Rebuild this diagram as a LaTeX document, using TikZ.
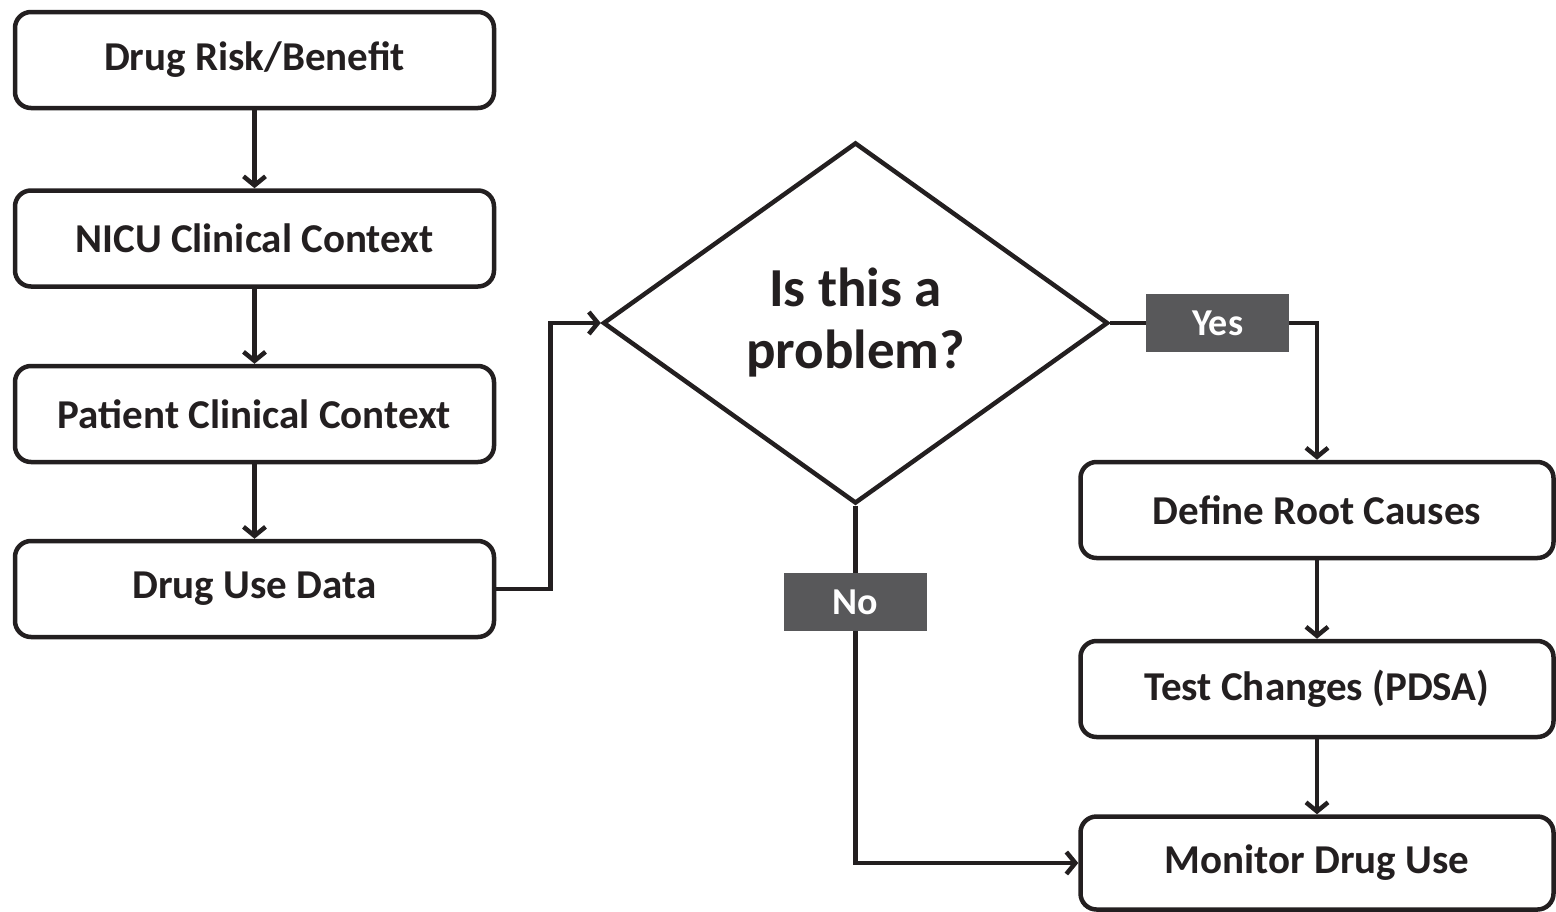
\documentclass[tikz,border=0pt]{standalone}
\usepackage{fontspec}
\setmainfont{Carlito}
\usetikzlibrary{arrows.meta,shapes.geometric}
\definecolor{ink}{HTML}{231F20}
\definecolor{tagfill}{HTML}{58585A}

\begin{document}
\begin{tikzpicture}[x=1pt,y=-1pt,color=ink,line width=4.5pt,
    >={Straight Barb[length=9pt,width=22pt]},
    box/.style={draw,rectangle,rounded corners=16pt,minimum width=479pt,minimum height=96pt,inner sep=0pt,font=\fontsize{41}{48}\selectfont\bfseries},
    question/.style={draw,diamond,minimum width=505pt,minimum height=361pt,inner sep=0pt,align=center,font=\fontsize{55}{62}\selectfont\bfseries},
    tag/.style={fill=tagfill,text=white,minimum width=143pt,minimum height=58pt,inner sep=0pt,font=\fontsize{38}{44}\selectfont\bfseries}]
    \useasboundingbox (0,0) rectangle (1556,911);
    \node[box] (risk) at (254.5,60) {Drug Risk/Benefit};
    \node[box] (nicu) at (254.5,238.5) {NICU Clinical Context};
    \node[box] (patient) at (254.5,414) {Patient Clinical Context};
    \node[box] (use) at (254.5,589) {Drug Use Data};
    \node[question] (problem) at (855.5,323) {Is this a\\problem?};
    \node[box,minimum width=473pt] (roots) at (1317,510) {Define Root Causes};
    \node[box,minimum width=473pt] (pdsa) at (1317,689) {Test Changes (PDSA)};
    \node[box,minimum width=473pt,minimum height=93pt] (monitor) at (1317,863) {Monitor Drug Use};
    \path[->]
    (risk) edge (nicu)
    (nicu) edge (patient)
    (patient) edge (use)
    (roots) edge (pdsa)
    (pdsa) edge (monitor)
;
    \draw[->] (use.east) -- ++(54,0) |- (problem.west);
    \draw[->] (problem.east) -| node[tag,pos=0.26] {Yes} (roots.north);
    \draw[->] (problem.south) |- node[tag,pos=0.135] {No} (monitor.west);
  \end{tikzpicture}
\end{document}
